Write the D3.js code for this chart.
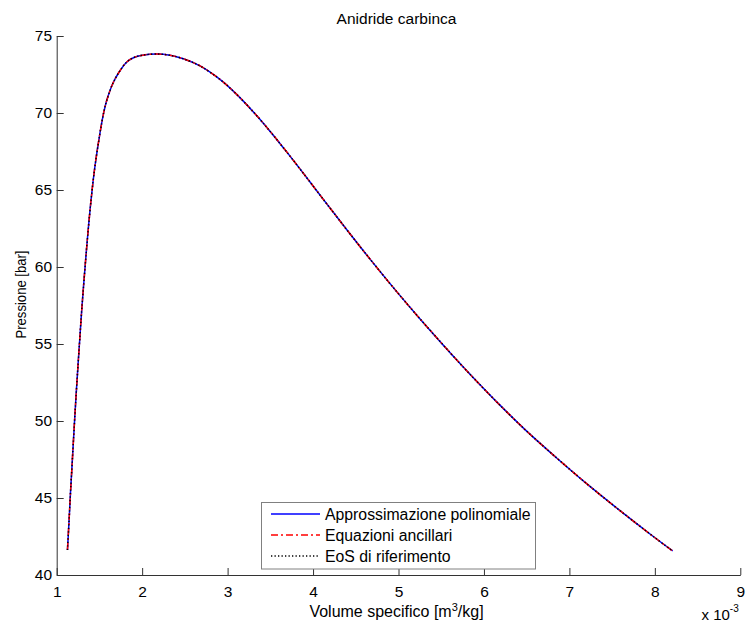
<!DOCTYPE html>
<html>
<head>
<meta charset="utf-8">
<script src="https://cdn.jsdelivr.net/npm/d3@7/dist/d3.min.js"></script>
<style>
  html, body { margin: 0; padding: 0; background: #fff; }
  svg { display: block; font-family: "Liberation Sans", Arial, Helvetica, sans-serif; }
</style>
</head>
<body>
<svg id="chart" width="747" height="626"></svg>
<script>
// ---- Data ----
// Specific volume, in units of 1e-3 m^3/kg
const volume = [1.126, 1.145, 1.161, 1.181, 1.203, 1.226, 1.248, 1.272, 1.294, 1.332,
  1.362, 1.402, 1.447, 1.506, 1.550, 1.587, 1.658, 1.733, 1.824, 1.911,
  2.020, 2.170, 2.326, 2.482, 2.677, 2.911, 3.106, 3.321, 3.496, 3.672,
  3.847, 4.043, 4.237, 4.471, 4.705, 4.979, 5.232, 5.720, 5.934, 6.149,
  6.500, 6.851, 7.202, 7.592, 7.982, 8.209];
// Saturation pressure, bar
const pressure = [41.62, 43.57, 45.30, 47.25, 49.42, 51.58, 53.50, 55.50, 57.29, 60.00,
  62.00, 64.35, 66.51, 68.68, 70.02, 70.84, 71.93, 72.68, 73.33, 73.62,
  73.77, 73.83, 73.75, 73.52, 73.06, 72.18, 71.21, 69.95, 68.82, 67.61,
  66.37, 64.95, 63.55, 61.88, 60.25, 58.40, 56.76, 53.73, 52.47, 51.24,
  49.34, 47.60, 45.93, 44.18, 42.50, 41.56];
const seriesNames = ["Approssimazione polinomiale", "Equazioni ancillari", "EoS di riferimento"];
const xTicks = [1, 2, 3, 4, 5, 6, 7, 8, 9];
const yTicks = [40, 45, 50, 55, 60, 65, 70, 75];
const titleText = "Anidride carbinca";

(function () {
// ---- Layout ----
const svg = d3.select("#chart");
const pL = 56.7, pR = 740.3, pT = 36, pB = 575;
const axisColor = "#333";
const fs = 15.5;

const x = d3.scaleLinear().domain([1, 9]).range([pL, pR]);
const y = d3.scaleLinear().domain([40, 75]).range([pB, pT]);

const styles = [
  { color: "#0000ff", dash: null },
  { color: "#ff0000", dash: "7,3,2,3" },
  { color: "#000000", dash: "1.3,2.2" }
];

const data = volume.map((v, i) => ({ v, p: pressure[i] }));
const line = d3.line().x(d => x(d.v)).y(d => y(d.p)).curve(d3.curveCatmullRom.alpha(0.5));

// Curves
seriesNames.forEach((name, i) => {
  svg.append("path")
    .datum(data)
    .attr("fill", "none")
    .attr("stroke", styles[i].color)
    .attr("stroke-width", 1.5)
    .attr("stroke-dasharray", styles[i].dash)
    .attr("d", line);
});

// Axes (inward ticks, left and bottom only)
const xAxis = d3.axisBottom(x).tickValues(xTicks).tickFormat(d3.format("d")).tickSizeInner(-7).tickSizeOuter(0).tickPadding(11);
const yAxis = d3.axisLeft(y).tickValues(yTicks).tickFormat(d3.format("d")).tickSizeInner(-7).tickSizeOuter(0).tickPadding(12);

const gx = svg.append("g").attr("transform", `translate(0,${pB})`).call(xAxis);
const gy = svg.append("g").attr("transform", `translate(${pL},0)`).call(yAxis);
[gx, gy].forEach(g => {
  g.select(".domain").attr("stroke", axisColor).attr("stroke-width", 1);
  g.selectAll(".tick line").attr("stroke", axisColor);
  g.selectAll(".tick text").attr("fill", "#000").style("font-size", fs + "px").style("font-family", '"Liberation Sans", Arial, sans-serif');
});
gy.selectAll(".tick text").attr("x", -4.7);

// Title
svg.append("text").attr("x", (pL + pR) / 2 - 2).attr("y", 24)
  .attr("text-anchor", "middle").style("font-size", fs + "px").text(titleText);

// X label
const xl = svg.append("text").attr("x", (pL + pR) / 2 - 2).attr("y", 617)
  .attr("text-anchor", "middle").style("font-size", "16px");
xl.append("tspan").text("Volume specifico [m");
xl.append("tspan").attr("dy", -6).style("font-size", "11px").text("3");
xl.append("tspan").attr("dy", 6).text("/kg]");

// Y label
svg.append("text").attr("transform", "translate(26,294.5) rotate(-90)")
  .attr("text-anchor", "middle").style("font-size", "15px")
  .attr("textLength", 88).attr("lengthAdjust", "spacingAndGlyphs")
  .text("Pressione [bar]");

// Exponent
const ex = svg.append("text").attr("x", 701.5).attr("y", 620).style("font-size", "15px");
ex.append("tspan").text("x 10");
ex.append("tspan").attr("dy", -8).style("font-size", "10px").text("-3");

// Legend
const lg = svg.append("g");
lg.append("rect").attr("x", 261.5).attr("y", 502.5).attr("width", 274).attr("height", 66.5)
  .attr("fill", "#fff").attr("stroke", "#808080").attr("stroke-width", 1);
const rowY = [514, 535, 556];
seriesNames.forEach((name, i) => {
  lg.append("line").attr("x1", 271).attr("x2", 320).attr("y1", rowY[i]).attr("y2", rowY[i])
    .attr("stroke", styles[i].color).attr("stroke-width", 1.5).attr("stroke-dasharray", styles[i].dash);
  lg.append("text").attr("x", 325).attr("y", rowY[i] + 5.5).style("font-size", "15.8px").text(name);
});
})();
</script>
</body>
</html>
